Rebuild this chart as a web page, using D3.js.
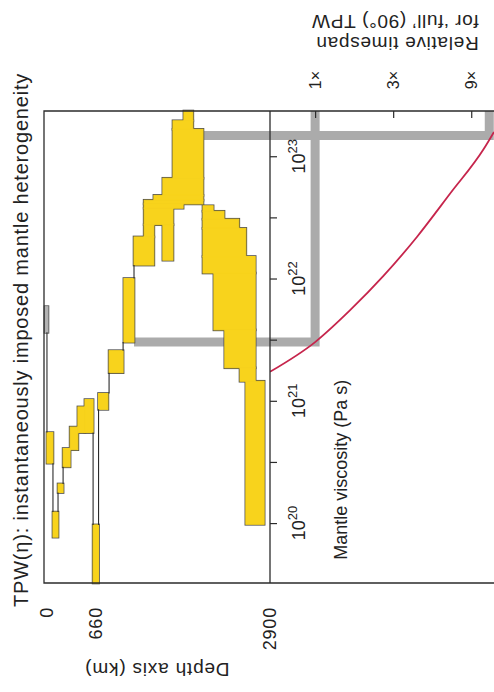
<!DOCTYPE html>
<html>
<head>
<meta charset="utf-8">
<script src="https://cdn.jsdelivr.net/npm/d3@7"></script>
<style>
  html, body { margin: 0; padding: 0; background: #ffffff; }
  svg { display: block; }
  text { font-family: "Liberation Sans", Arial, Helvetica, sans-serif; fill: #222; }
</style>
</head>
<body>
<svg id="chart" width="494" height="692"></svg>
<script>
// ---------------------------------------------------------------
// TPW(η) for an instantaneously imposed mantle heterogeneity.
// Drawn on its side: depth runs left→right, viscosity runs upward,
// and the relative TPW timespan panel sits to the right.
// ---------------------------------------------------------------

const titleText = "TPW(η): instantaneously imposed mantle heterogeneity";
const depthAxisTitle = "Depth axis (km)";
const viscAxisTitle = "Mantle viscosity (Pa s)";
const spanAxisTitle = ["Relative timespan", "for ‘full’ (90°) TPW"];

// Axis ticks
const depthTicks = [0, 660, 2900];                      // km
const viscTicks = [20, 20.5, 21, 21.5, 22, 22.5, 23];   // log10 η (Pa s)
const viscLabelExps = [20, 21, 22, 23];
const spanTicks = [1, 3, 9];                            // × reference timespan
const spanTickLabels = ["1×", "3×", "9×"];

// Axis extents
const depthDomain = [0, 2900];
const logEtaDomain = [19.51, 23.37];
const spanDomain = [0.53, 12.4];

// Transition bands, each [depthFrom, depthTo, logEtaFrom, logEtaTo]
// Upper branch (peak) and its left limb
const bandsPeak = [
  [1795, 1910, 23.29, 23.37],
  [1655, 1910, 23.22, 23.29],
  [1655, 2040, 22.82, 23.22],
  [1525, 2040, 22.68, 22.82],
  [1410, 2040, 22.64, 22.68],
  [1285, 2040, 22.61, 22.64],
  [1285, 1785, 22.575, 22.61],
  [1285, 1655, 22.44, 22.575],
  [1525, 1655, 22.15, 22.44],
  [1285, 1410, 22.34, 22.44],
  [1155, 1410, 22.11, 22.34]
];
// Right limb (deep mantle)
const bandsDeep = [
  [2040, 2170, 22.55, 22.595],
  [2040, 2310, 22.485, 22.55],
  [2040, 2500, 22.41, 22.485],
  [2040, 2590, 22.18, 22.41],
  [2040, 2710, 22.045, 22.18],
  [2180, 2710, 21.58, 22.045],
  [2320, 2710, 21.27, 21.58],
  [2515, 2710, 21.16, 21.27],
  [2590, 2825, 19.99, 21.16]
];
// Descending chain toward the 660 km discontinuity
const bandsChain = [
  [1025, 1155, 21.48, 22.00],
  [835, 1015, 21.23, 21.41],
  [700, 820, 20.93, 21.06],
  [630, 700, 19.51, 19.985]
];
// Shallow, low-viscosity staircase
const bandsShallow = [
  [525, 630, 20.74, 21.01],
  [435, 525, 20.74, 20.95],
  [335, 435, 20.60, 20.785],
  [245, 335, 20.46, 20.61],
  [180, 245, 20.25, 20.32],
  [38, 115, 20.49, 20.74],
  [115, 180, 19.885, 20.09]
];
// Lithosphere marker (grey)
const bandsLitho = [
  [13, 51, 21.56, 21.77]
];

// Boundary segments between bands: [depth, logEtaFrom, logEtaTo]
const boundarySegs = [
  [1155, 22.11, 22.00],
  [1015, 21.48, 21.41],
  [835, 21.23, 21.06],
  [700, 20.93, 19.985],
  [630, 20.74, 19.985],
  [245, 20.46, 20.32],
  [180, 20.25, 20.09],
  [115, 20.49, 20.09],
  [38, 21.56, 20.74]
];

// Read-off guides: start depth, relative timespan reached, viscosity level
const guideDepth = [1155, 2040];
const guideSpan = [1, 11.6];
const guideLogEta = [21.48, 23.17];

// Relative timespan needed for full (90°) TPW vs. mantle viscosity
const curveSpan = [0.53, 1, 1.637, 2.616, 4.19, 6.69, 10.7, 12.4];
const curveLogEta = [21.237, 21.48, 21.741, 22.021, 22.34, 22.695, 23.057, 23.199];

// ---------------------------------------------------------------
const frame = { left: 44, top: 111, bottom: 583, split: 270, right: 494 };
const colors = {
  band: "#f8d31c", bandEdge: "#4f4f4f", litho: "#b4b4b4",
  guide: "#ababab", curve: "#c6254c", ink: "#2b2b2b"
};

const svg = d3.select("#chart");

const xDepth = d3.scaleLinear().domain(depthDomain).range([frame.left, frame.split]);
const yEta = d3.scaleLinear().domain(logEtaDomain).range([frame.bottom, frame.top]);
const xSpan = d3.scaleLog().domain(spanDomain).range([frame.split, frame.right]);

// Guide bars (drawn beneath the bands)
const guideLine = d3.line();
svg.append("g").selectAll("path")
  .data(guideDepth.map((d, i) => ({ depth: d, span: guideSpan[i], eta: guideLogEta[i] })))
  .join("path")
  .attr("d", g => guideLine([
    [xDepth(g.depth), yEta(g.eta)],
    [xSpan(g.span), yEta(g.eta)],
    [xSpan(g.span), yEta(logEtaDomain[1])]
  ]))
  .attr("fill", "none")
  .attr("stroke", colors.guide)
  .attr("stroke-width", 9)
  .attr("stroke-linejoin", "miter");

// Bands: wide dark outlines first, then fills (with a thin same-colour
// rim that closes seams) on top, so only the outer edge of each merged
// region keeps a visible dark rim.
function placeRect(sel) {
  sel.attr("x", d => xDepth(d[0]))
     .attr("y", d => yEta(d[3]))
     .attr("width", d => xDepth(d[1]) - xDepth(d[0]))
     .attr("height", d => yEta(d[2]) - yEta(d[3]));
}
const yellowBands = [].concat(bandsPeak, bandsDeep, bandsChain, bandsShallow);
const bandLayer = svg.append("g");
bandLayer.append("g").selectAll("rect")
  .data(yellowBands.concat(bandsLitho))
  .join("rect")
  .call(placeRect)
  .attr("fill", "none")
  .attr("stroke", colors.bandEdge)
  .attr("stroke-width", 2.6);
bandLayer.append("g").selectAll("rect")
  .data(yellowBands)
  .join("rect")
  .call(placeRect)
  .attr("fill", colors.band)
  .attr("stroke", colors.band)
  .attr("stroke-width", 1);
bandLayer.append("g").selectAll("rect")
  .data(bandsLitho)
  .join("rect")
  .call(placeRect)
  .attr("fill", colors.litho)
  .attr("stroke", colors.litho)
  .attr("stroke-width", 1);

// Boundary segments
svg.append("g").selectAll("line")
  .data(boundarySegs)
  .join("line")
  .attr("x1", d => xDepth(d[0])).attr("x2", d => xDepth(d[0]))
  .attr("y1", d => yEta(d[1])).attr("y2", d => yEta(d[2]))
  .attr("stroke", colors.ink)
  .attr("stroke-width", 1.1);

// Timespan curve, clipped to its panel
svg.append("clipPath").attr("id", "spanClip")
  .append("rect")
  .attr("x", frame.split).attr("y", frame.top)
  .attr("width", frame.right - frame.split).attr("height", frame.bottom - frame.top);
svg.append("path")
  .datum(curveSpan.map((s, i) => [s, curveLogEta[i]]))
  .attr("clip-path", "url(#spanClip)")
  .attr("d", d3.line().x(d => xSpan(d[0])).y(d => yEta(d[1])).curve(d3.curveMonotoneX))
  .attr("fill", "none")
  .attr("stroke", colors.curve)
  .attr("stroke-width", 1.8);

// Frame
const frameG = svg.append("g").attr("stroke", colors.ink).attr("stroke-width", 1.3).attr("fill", "none");
frameG.append("path").attr("d", guideLine([
  [frame.right, yEta(logEtaDomain[1])], [xDepth(0), yEta(logEtaDomain[1])],
  [xDepth(0), yEta(logEtaDomain[0])], [frame.right, yEta(logEtaDomain[0])]
]));
frameG.append("line")
  .attr("x1", xDepth(depthDomain[1])).attr("x2", xDepth(depthDomain[1]))
  .attr("y1", yEta(logEtaDomain[1])).attr("y2", yEta(logEtaDomain[0]));

// Viscosity ticks on the shared axis
const viscAxis = svg.append("g")
  .attr("transform", `translate(${xDepth(depthDomain[1])},0)`)
  .call(d3.axisRight(yEta).tickValues(viscTicks).tickSize(7).tickSizeOuter(0).tickFormat(""));
viscAxis.select(".domain").remove();
viscAxis.selectAll(".tick line").attr("stroke", colors.ink).attr("stroke-width", 1.2);

// Timespan ticks along the top edge
const spanAxis = svg.append("g")
  .attr("transform", `translate(0,${yEta(logEtaDomain[1])})`)
  .call(d3.axisBottom(xSpan).tickValues(spanTicks).tickSize(7).tickSizeOuter(0).tickFormat(""));
spanAxis.select(".domain").remove();
spanAxis.selectAll(".tick line").attr("stroke", colors.ink).attr("stroke-width", 1.2);

// ---------------- Text ----------------
const labelBase = frame.bottom + 24;

// Title (rotated)
svg.append("text")
  .attr("transform", `translate(28,${labelBase}) rotate(-90)`)
  .attr("font-size", 20)
  .attr("letter-spacing", 0.8)
  .text(titleText);

// Depth tick labels
svg.append("g").selectAll("text")
  .data(depthTicks)
  .join("text")
  .attr("transform", d => `translate(${xDepth(d) + (d === 0 ? 3 : 0)},${labelBase}) rotate(-90)`)
  .attr("text-anchor", "end")
  .attr("dy", "0.36em")
  .attr("font-size", 18)
  .attr("letter-spacing", 0.8)
  .text(d => d);

// Depth axis title (upside down)
svg.append("text")
  .attr("transform", `translate(${xDepth(1450)},663) rotate(180)`)
  .attr("text-anchor", "middle")
  .attr("font-size", 19)
  .attr("letter-spacing", 0.8)
  .text(depthAxisTitle);

// Viscosity labels: 10^n
const viscLab = svg.append("g").selectAll("text")
  .data(viscLabelExps)
  .join("text")
  .attr("transform", d => `translate(${xDepth(depthDomain[1]) + 35},${yEta(d)}) rotate(-90)`)
  .attr("text-anchor", "middle")
  .attr("font-size", 18);
viscLab.append("tspan").text("10");
viscLab.append("tspan").attr("font-size", 13).attr("dy", "-0.6em").text(d => d);

// Viscosity axis title
svg.append("text")
  .attr("transform", `translate(${xDepth(depthDomain[1]) + 77},${yEta(19.7)}) rotate(-90)`)
  .attr("font-size", 18)
  .text(viscAxisTitle);

// Timespan tick labels
svg.append("g").selectAll("text")
  .data(spanTicks)
  .join("text")
  .attr("transform", d => `translate(${xSpan(d)},80) rotate(-90)`)
  .attr("text-anchor", "middle")
  .attr("dy", "0.36em")
  .attr("font-size", 16)
  .text((d, i) => spanTickLabels[i]);

// Timespan axis title (upside down, two lines)
const spanTitle = svg.append("text")
  .attr("transform", `translate(${xSpan(10)},37) rotate(180)`)
  .attr("font-size", 19)
  .attr("letter-spacing", 0.7);
spanTitle.selectAll("tspan")
  .data(spanAxisTitle)
  .join("tspan")
  .attr("x", 0)
  .attr("dy", (d, i) => i === 0 ? "0" : "1.17em")
  .text(d => d);
</script>
</body>
</html>
